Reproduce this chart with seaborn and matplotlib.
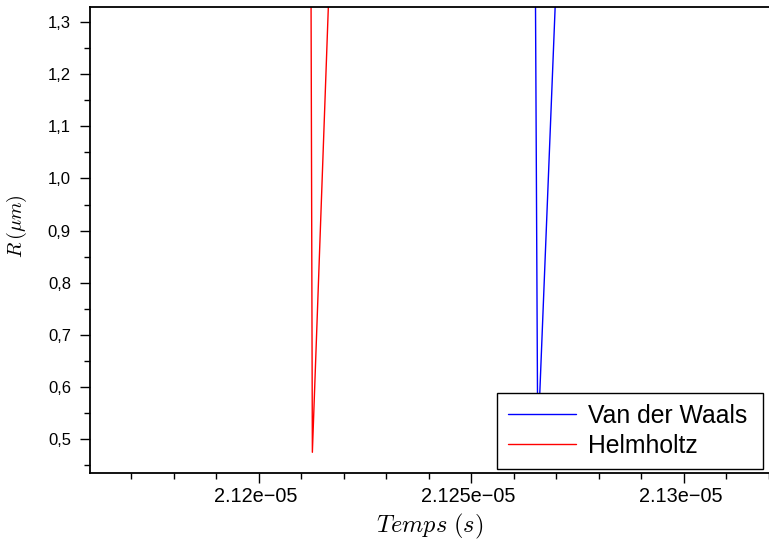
import numpy as np
import pandas as pd
import matplotlib
matplotlib.use("Agg")
import matplotlib.pyplot as plt
import matplotlib.transforms as mtransforms
from matplotlib.ticker import FixedLocator, MultipleLocator, FuncFormatter
import seaborn as sns

# ---- data ----
t_vdw = [2.126504e-05, 2.126561e-05, 2.127005e-05]
r_vdw = [1.40, 0.49, 1.40]
t_helm = [2.121227e-05, 2.121260e-05, 2.121667e-05]
r_helm = [1.40, 0.475, 1.40]
series_names = ["Van der Waals", "Helmholtz"]
series_colors = ["#0000ff", "#ff0000"]
x_ticks = [2.12e-05, 2.125e-05, 2.13e-05]
y_ticks = [0.5, 0.6, 0.7, 0.8, 0.9, 1.0, 1.1, 1.2, 1.3]

df = pd.DataFrame({
    "t": t_vdw + t_helm,
    "R": r_vdw + r_helm,
    "serie": [series_names[0]] * len(t_vdw) + [series_names[1]] * len(t_helm),
})

sns.set_theme(style="ticks")
plt.rcParams["font.family"] = ["Liberation Sans", "DejaVu Sans"]
plt.rcParams["mathtext.fontset"] = "cm"
plt.rcParams["text.color"] = "black"
plt.rcParams["axes.labelcolor"] = "black"
plt.rcParams["xtick.color"] = "black"
plt.rcParams["ytick.color"] = "black"

fig = plt.figure(figsize=(7.69, 5.42), dpi=100)
ax = fig.add_axes([90 / 769, (542 - 473) / 542, 1 - 90 / 769, (473 - 7) / 542])

sns.lineplot(data=df, x="t", y="R", hue="serie", hue_order=series_names,
             palette=dict(zip(series_names, series_colors)), sort=False,
             estimator=None, linewidth=1.0, ax=ax)

ax.set_xlim(2.11603e-05, 2.132e-05)
ax.set_ylim(0.4353, 1.3288)

ax.xaxis.set_major_locator(FixedLocator(x_ticks))
ax.xaxis.set_minor_locator(MultipleLocator(1e-08))
ax.yaxis.set_major_locator(FixedLocator(y_ticks))
ax.yaxis.set_minor_locator(MultipleLocator(0.05))
ax.xaxis.set_major_formatter(FuncFormatter(lambda v, p: f"{v:g}".replace("-", "\u2212")))
ax.yaxis.set_major_formatter(FuncFormatter(lambda v, p: f"{v:.1f}".replace(".", ",")))

ax.tick_params(axis="both", which="major", length=7, width=1.0, color="black",
               direction="out", top=False, right=False)
ax.tick_params(axis="both", which="minor", length=4, width=1.0, color="black",
               direction="out", top=False, right=False)
ax.tick_params(axis="x", labelsize=14.3, pad=3, labelcolor="black")
ax.tick_params(axis="y", labelsize=12, pad=6.7, labelcolor="black")

# shift x tick labels slightly left as in the reference
offset = mtransforms.ScaledTranslation(-3 / 100, 0, fig.dpi_scale_trans)
for lbl in ax.get_xticklabels():
    lbl.set_transform(lbl.get_transform() + offset)

for side in ["left", "bottom", "top"]:
    ax.spines[side].set_visible(True)
    ax.spines[side].set_linewidth(1.3)
    ax.spines[side].set_color("black")
ax.spines["right"].set_visible(False)
ax.grid(False)

ax.set_xlabel(r"$Temps\ (s)$", fontsize=17.5)
ax.set_ylabel(r"$R\,(\mu m)$", fontsize=14.5)
ax.xaxis.set_label_coords(0.5, (473 - 512) / 466)
ax.yaxis.set_label_coords((29 - 90) / 679, (473 - 226) / 466)

leg = ax.legend(loc="lower left", mode="expand",
                bbox_to_anchor=((497 - 90) / 679, (473 - 469) / 466, 266 / 679, 0.3),
                borderaxespad=0, fontsize=17.8, frameon=True, fancybox=False,
                framealpha=1, edgecolor="black", handlelength=2.75,
                handletextpad=0.5, labelspacing=0.25, borderpad=0.45, title=None)
leg.get_frame().set_linewidth(1.0)
for txt in leg.get_texts():
    txt.set_color("black")

fig.savefig("out.png", dpi=100)
